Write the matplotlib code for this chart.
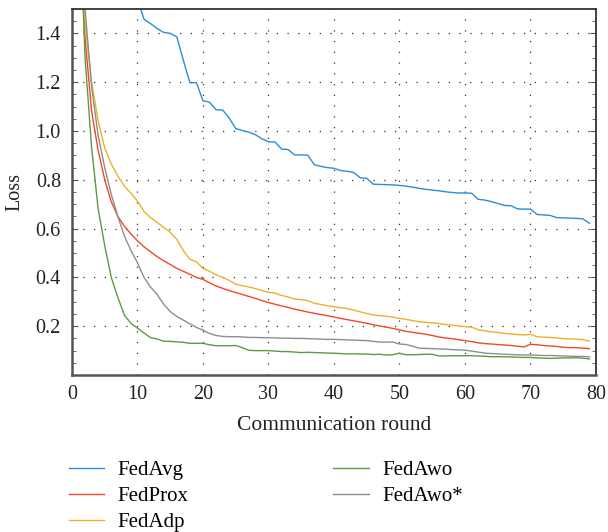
import numpy as np
import matplotlib
matplotlib.use("Agg")
import matplotlib.pyplot as plt
from matplotlib.ticker import MultipleLocator

plt.rcParams['font.family'] = ['Liberation Serif', 'DejaVu Serif']

rounds = np.arange(1, 80)

fedavg = [2.60, 2.35, 2.15, 2.00, 1.88, 1.78, 1.70, 1.63, 1.58, 1.54,
          1.458, 1.44, 1.42, 1.404, 1.400, 1.386, 1.29, 1.198, 1.198, 1.124,
          1.118, 1.087, 1.086, 1.053, 1.010, 1.002, 0.995, 0.985, 0.968, 0.956,
          0.955, 0.926, 0.924, 0.902, 0.902, 0.901, 0.862, 0.855, 0.850, 0.847,
          0.838, 0.835, 0.830, 0.808, 0.806, 0.782, 0.781, 0.780, 0.779, 0.777,
          0.774, 0.770, 0.765, 0.761, 0.758, 0.755, 0.751, 0.748, 0.746, 0.746,
          0.745, 0.720, 0.717, 0.711, 0.703, 0.695, 0.694, 0.681, 0.680, 0.680,
          0.658, 0.656, 0.654, 0.645, 0.644, 0.643, 0.642, 0.640, 0.622]

fedprox = [2.00, 1.38, 1.08, 0.92, 0.80, 0.71, 0.65, 0.61, 0.578, 0.550,
           0.525, 0.505, 0.485, 0.468, 0.453, 0.437, 0.425, 0.413, 0.400, 0.392,
           0.378, 0.365, 0.355, 0.346, 0.338, 0.330, 0.322, 0.314, 0.305, 0.297,
           0.290, 0.283, 0.277, 0.270, 0.264, 0.258, 0.253, 0.248, 0.243, 0.238,
           0.232, 0.227, 0.222, 0.217, 0.212, 0.206, 0.201, 0.196, 0.191, 0.185,
           0.179, 0.175, 0.171, 0.167, 0.162, 0.156, 0.152, 0.149, 0.145, 0.141,
           0.137, 0.132, 0.129, 0.127, 0.125, 0.123, 0.121, 0.118, 0.115, 0.126,
           0.124, 0.121, 0.119, 0.117, 0.114, 0.112, 0.112, 0.110, 0.108]

fedadp = [2.10, 1.43, 1.20, 1.04, 0.93, 0.865, 0.815, 0.775, 0.745, 0.713,
          0.670, 0.645, 0.625, 0.605, 0.585, 0.556, 0.510, 0.474, 0.464, 0.437,
          0.425, 0.411, 0.400, 0.388, 0.372, 0.366, 0.361, 0.354, 0.346, 0.339,
          0.336, 0.326, 0.320, 0.311, 0.309, 0.305, 0.294, 0.289, 0.284, 0.280,
          0.276, 0.272, 0.266, 0.259, 0.252, 0.246, 0.243, 0.241, 0.237, 0.232,
          0.228, 0.223, 0.218, 0.216, 0.214, 0.211, 0.207, 0.204, 0.201, 0.198,
          0.196, 0.186, 0.181, 0.177, 0.174, 0.171, 0.168, 0.166, 0.164, 0.167,
          0.157, 0.155, 0.154, 0.152, 0.149, 0.148, 0.147, 0.145, 0.139]

fedawo = [2.00, 1.30, 0.93, 0.68, 0.53, 0.40, 0.318, 0.245, 0.212, 0.192,
          0.172, 0.153, 0.148, 0.138, 0.138, 0.136, 0.134, 0.130, 0.130, 0.130,
          0.124, 0.120, 0.120, 0.120, 0.121, 0.112, 0.101, 0.100, 0.100, 0.100,
          0.098, 0.096, 0.096, 0.094, 0.092, 0.093, 0.092, 0.091, 0.090, 0.089,
          0.088, 0.086, 0.087, 0.086, 0.086, 0.084, 0.085, 0.082, 0.083, 0.089,
          0.083, 0.083, 0.084, 0.085, 0.085, 0.078, 0.078, 0.079, 0.079, 0.079,
          0.079, 0.078, 0.077, 0.075, 0.075, 0.075, 0.074, 0.073, 0.072, 0.072,
          0.070, 0.069, 0.068, 0.069, 0.070, 0.070, 0.071, 0.069, 0.066]

fedawo_star = [2.60, 1.50, 1.18, 0.98, 0.85, 0.74, 0.65, 0.57, 0.51, 0.46,
               0.40, 0.36, 0.33, 0.29, 0.26, 0.24, 0.225, 0.210, 0.195, 0.184,
               0.170, 0.162, 0.158, 0.157, 0.157, 0.156, 0.154, 0.154, 0.153, 0.153,
               0.152, 0.151, 0.151, 0.150, 0.150, 0.149, 0.148, 0.147, 0.146, 0.146,
               0.145, 0.144, 0.143, 0.142, 0.141, 0.138, 0.135, 0.135, 0.135, 0.127,
               0.125, 0.118, 0.110, 0.109, 0.108, 0.107, 0.106, 0.104, 0.103, 0.102,
               0.098, 0.094, 0.090, 0.088, 0.087, 0.085, 0.084, 0.083, 0.082, 0.082,
               0.081, 0.080, 0.080, 0.079, 0.078, 0.077, 0.076, 0.076, 0.075]

series = [
    ("FedAvg", fedavg, "#2b8dd6"),
    ("FedProx", fedprox, "#f2472c"),
    ("FedAdp", fedadp, "#ecb12c"),
    ("FedAwo", fedawo, "#5e9a44"),
    ("FedAwo*", fedawo_star, "#8e8e8e"),
]

fig = plt.figure(figsize=(6.08, 5.32), dpi=100)
ax = fig.add_axes([0.1184, 0.2951, 0.8618, 0.6880])

for name, vals, color in series:
    ax.plot(rounds, vals, color=color, lw=1.0, label=name)

ax.set_xlim(0, 80)
ax.set_ylim(0, 1.5)
ax.set_xticks(np.arange(0, 81, 10))
ax.set_yticks([0.2, 0.4, 0.6, 0.8, 1.0, 1.2, 1.4])
ax.set_yticklabels(["0.2", "0.4", "0.6", "0.8", "1.0", "1.2", "1.4"])
ax.yaxis.set_minor_locator(MultipleLocator(0.05))

ax.tick_params(axis='x', length=0, labelsize=14.5, pad=7, colors='#222222')
ax.tick_params(axis='y', which='both', direction='in', left=True, right=True,
               labelsize=14.5, pad=8, colors='#222222')
ax.tick_params(axis='y', which='major', length=4, color='#555555')
ax.tick_params(axis='y', which='minor', length=3, color='#555555')

ax.grid(True, which='major', color='#333333', lw=0.9, linestyle=(0, (1, 7.6)))

for side in ['left', 'bottom']:
    ax.spines[side].set_linewidth(1.8)
    ax.spines[side].set_color('#555555')
for side in ['top', 'right']:
    ax.spines[side].set_linewidth(1.3)
    ax.spines[side].set_color('#333333')

ax.set_xlabel("Communication round", fontsize=15.5, labelpad=9, color='#222222')
ax.set_ylabel("Loss", fontsize=14.5, labelpad=8, color='#222222')

# two-column legend under the plot area
fig.legend(loc='upper left', bbox_to_anchor=(0.113, 0.134), ncol=2, frameon=False,
           fontsize=15, handlelength=1.7, handletextpad=0.65, columnspacing=6.95,
           labelspacing=0.3, borderpad=0, borderaxespad=0)

fig.savefig("out.png", dpi=100)
